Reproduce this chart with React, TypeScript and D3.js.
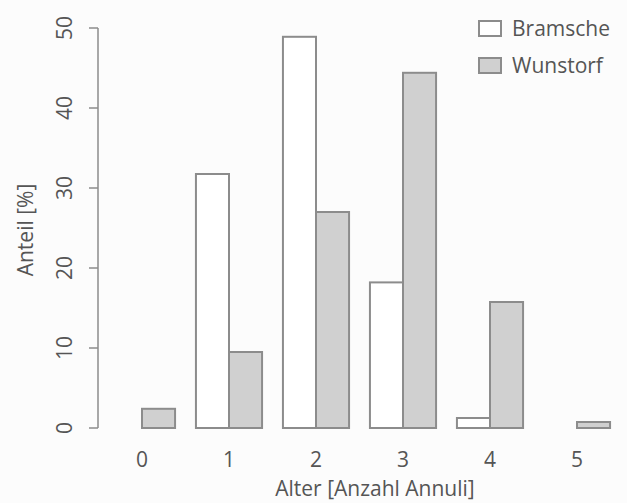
import React from "react";
import * as d3 from "d3";

const categories = ["0", "1", "2", "3", "4", "5"];
const seriesNames = ["Bramsche", "Wunstorf"];
const bramsche = [0, 31.75, 48.9, 18.2, 1.25, 0];
const wunstorf = [2.4, 9.5, 27.0, 44.4, 15.75, 0.75];
const yTicks = [0, 10, 20, 30, 40, 50];

const W = 627;
const H = 503;
const FONT = "'Open Sans', 'Noto Sans', sans-serif";
const TEXT = "#555555";
const STROKE = "#8c8c8c";
const FILLS = ["#ffffff", "#d0d0d0"];

export default function App() {
  const y = d3.scaleLinear().domain([0, 50]).range([428, 28]);
  const x = d3
    .scaleBand<string>()
    .domain(categories)
    .range([98.5, 620.5])
    .paddingInner(0.24)
    .paddingOuter(0.12);
  const inner = d3
    .scaleBand<string>()
    .domain(seriesNames)
    .range([0, x.bandwidth()]);
  const series = [bramsche, wunstorf];

  return (
    <svg
      width={W}
      height={H}
      style={{ position: "absolute", left: 0, top: 0, background: "#fcfcfc" }}
      fontFamily={FONT}
    >
      <rect x={0} y={0} width={W} height={H} fill="#fcfcfc" />
      {/* bars */}
      {categories.map((c, i) =>
        seriesNames.map((s, j) => {
          const v = series[j][i];
          if (v <= 0) return null;
          const bx = (x(c) as number) + (inner(s) as number);
          return (
            <rect
              key={c + s}
              x={bx}
              y={y(v)}
              width={inner.bandwidth()}
              height={y(0) - y(v)}
              fill={FILLS[j]}
              stroke={STROKE}
              strokeWidth={2}
            />
          );
        })
      )}
      {/* y axis */}
      <line x1={98} x2={98} y1={y(50)} y2={y(0)} stroke={STROKE} strokeWidth={1.5} />
      {yTicks.map((t) => (
        <g key={t}>
          <line x1={89} x2={98} y1={y(t)} y2={y(t)} stroke={STROKE} strokeWidth={1.5} />
          <text
            transform={`translate(${72},${y(t)}) rotate(-90)`}
            textAnchor="middle"
            fontSize={21}
            fill={TEXT}
          >
            {t}
          </text>
        </g>
      ))}
      <text
        transform={`translate(${33},${230}) rotate(-90)`}
        textAnchor="middle"
        fontSize={21}
        fill={TEXT}
      >
        Anteil [%]
      </text>
      {/* x labels */}
      {categories.map((c) => (
        <text
          key={c}
          x={(x(c) as number) + x.bandwidth() / 2}
          y={467}
          textAnchor="middle"
          fontSize={21}
          fill={TEXT}
        >
          {c}
        </text>
      ))}
      <text x={375} y={496} textAnchor="middle" fontSize={21} fill={TEXT}>
        Alter [Anzahl Annuli]
      </text>
      {/* legend */}
      {seriesNames.map((s, j) => (
        <g key={s} transform={`translate(0, ${j * 37})`}>
          <rect x={479} y={21} width={22} height={15} fill={FILLS[j]} stroke={STROKE} strokeWidth={2} />
          <text x={512} y={36} fontSize={21} fill={TEXT}>
            {s}
          </text>
        </g>
      ))}
    </svg>
  );
}
